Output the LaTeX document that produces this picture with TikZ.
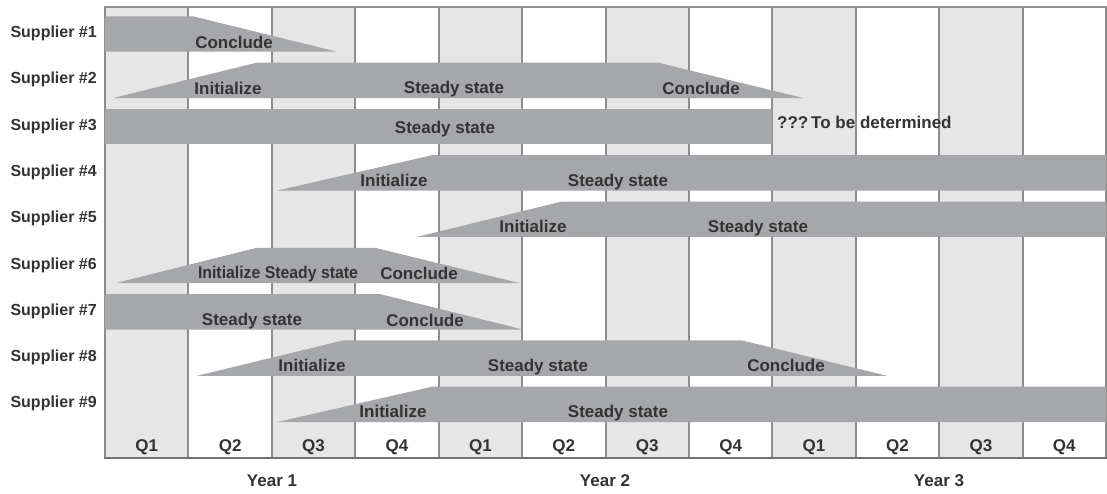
\documentclass[tikz,border=0pt]{standalone}
\usepackage{fontspec}
\setmainfont{Liberation Sans}
\definecolor{barfill}{HTML}{A6A7AA}
\definecolor{colshade}{HTML}{E6E6E6}
\definecolor{gridgray}{HTML}{8E8E8E}
\definecolor{inkgray}{HTML}{333333}
\begin{document}
\begin{tikzpicture}[x=1pt,y=-1pt,
  bar/.style={fill=barfill},
  gridline/.style={draw=gridgray,line width=2pt},
  barlabel/.style={inner sep=0pt,anchor=base,text=inkgray,font=\fontsize{17}{20}\selectfont\bfseries},
  rowlabel/.style={inner sep=0pt,anchor=base east,text=inkgray,font=\fontsize{16}{19}\selectfont\bfseries},
  qlabel/.style={inner sep=0pt,anchor=base,text=inkgray,font=\fontsize{17}{20}\selectfont\bfseries},
  ylabel/.style={inner sep=0pt,anchor=base,text=inkgray,font=\fontsize{17}{20}\selectfont\bfseries}]
\useasboundingbox (0,0) rectangle (1107,493);
\fill[white] (0,0) rectangle (1107,493);

% quarter columns, every other one shaded
\foreach \k in {0,...,11} {
  \ifodd\k\else
    \fill[colshade] ({105+\k*83.4167},7) rectangle ({105+(\k+1)*83.4167},458);
  \fi
}
\foreach \k in {0,...,12}
  \draw[gridline] ({105+\k*83.4167},7) -- ({105+\k*83.4167},458);
\draw[draw=gridgray,line width=1.5pt] (104,7) -- (1107,7);
\draw[draw=gridgray!80!black,line width=2.5pt] (104,458) -- (1107,458);

% supplier bars
\fill[bar] (105,16.3) -- (193,16.3) -- (337,51.7) -- (105,51.7) -- cycle;
\fill[bar] (113,98) -- (257,62.6) -- (658,62.6) -- (803,98) -- cycle;
\fill[bar] (105,108.9) -- (772,108.9) -- (772,144.3) -- (105,144.3) -- cycle;
\fill[bar] (277,190.6) -- (432,155.2) -- (1106,155.2) -- (1106,190.6) -- cycle;
\fill[bar] (417,236.9) -- (562,201.5) -- (1106,201.5) -- (1106,236.9) -- cycle;
\fill[bar] (115,283.2) -- (257,247.8) -- (375,247.8) -- (520,283.2) -- cycle;
\fill[bar] (105,294.1) -- (380,294.1) -- (523,329.5) -- (105,329.5) -- cycle;
\fill[bar] (197,375.8) -- (343,340.4) -- (742,340.4) -- (887,375.8) -- cycle;
\fill[bar] (277,422.1) -- (432,386.7) -- (1106,386.7) -- (1106,422.1) -- cycle;

% row labels
\node[rowlabel] (r1) at (97,37.5) {Supplier \#1};
\node[rowlabel] (r2) at (97,83.8) {Supplier \#2};
\node[rowlabel] (r3) at (97,130.1) {Supplier \#3};
\node[rowlabel] (r4) at (97,176.4) {Supplier \#4};
\node[rowlabel] (r5) at (97,222.7) {Supplier \#5};
\node[rowlabel] (r6) at (97,269) {Supplier \#6};
\node[rowlabel] (r7) at (97,315.3) {Supplier \#7};
\node[rowlabel] (r8) at (97,361.6) {Supplier \#8};
\node[rowlabel] (r9) at (97,407.9) {Supplier \#9};

% phase labels
\node[barlabel] (c1) at (234,48) {Conclude};
\node[barlabel] (i2) at (228,94) {Initialize};
\node[barlabel] (s2) at (454,93.5) {Steady state};
\node[barlabel] (c2) at (701,94) {Conclude};
\node[barlabel] (s3) at (445,133.5) {Steady state};
\node[barlabel,anchor=base west] (t3) at (777,128) {???\,To be determined};
\node[barlabel] (i4) at (394,186) {Initialize};
\node[barlabel] (s4) at (618,186) {Steady state};
\node[barlabel] (i5) at (533,232) {Initialize};
\node[barlabel] (s5) at (758,232) {Steady state};
\node[barlabel] (is6) at (278,278) {\scalebox{0.93}[1]{Initialize Steady state}};
\node[barlabel] (c6) at (419,279.5) {Conclude};
\node[barlabel] (s7) at (252,325) {Steady state};
\node[barlabel] (c7) at (425,326) {Conclude};
\node[barlabel] (i8) at (312,371) {Initialize};
\node[barlabel] (s8) at (538,371) {Steady state};
\node[barlabel] (c8) at (786,371) {Conclude};
\node[barlabel] (i9) at (393,417) {Initialize};
\node[barlabel] (s9) at (618,417) {Steady state};

% quarter and year axis
\foreach \k/\q in {0/Q1,1/Q2,2/Q3,3/Q4,4/Q1,5/Q2,6/Q3,7/Q4,8/Q1,9/Q2,10/Q3,11/Q4}
  \node[qlabel] (q\k) at ({105+(\k+0.5)*83.4167},451.7) {\q};
\node[ylabel] (y1) at (272,486) {Year 1};
\node[ylabel] (y2) at (605,486) {Year 2};
\node[ylabel] (y3) at (939,486) {Year 3};
\end{tikzpicture}
\end{document}
